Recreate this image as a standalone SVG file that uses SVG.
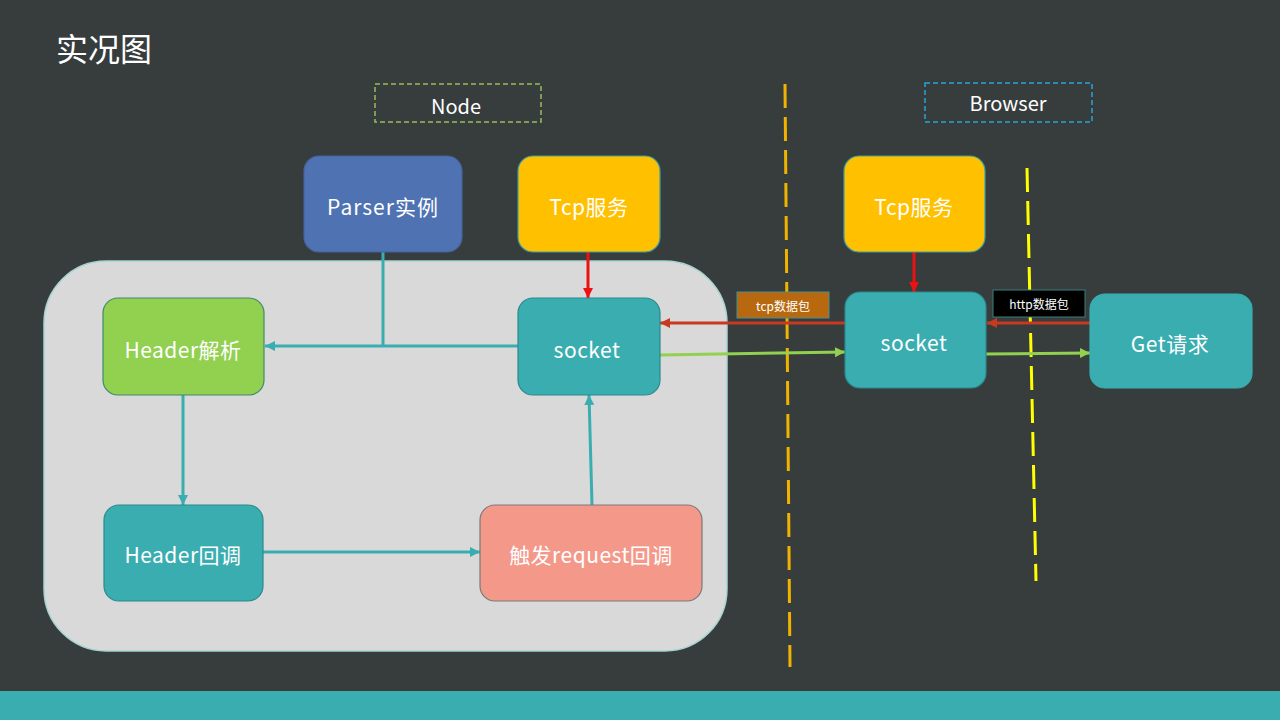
<svg xmlns="http://www.w3.org/2000/svg" width="1280" height="720" viewBox="0 0 1280 720">
<style>
.t{font-family:"Noto Sans CJK SC","Noto Sans",sans-serif;fill:#ffffff;text-anchor:middle;dominant-baseline:central;}
.n{font-size:21px;letter-spacing:0.5px;}
.s{font-size:12px;}
.box{stroke-width:1.2;}
.teal{fill:#3aadb1;stroke:#2b8a8c;}
.c{fill:none;stroke-width:3;}
</style>
<defs>
<marker id="aT" markerUnits="userSpaceOnUse" markerWidth="12" markerHeight="12" refX="10" refY="6" orient="auto"><path d="M0,1 L10,6 L0,11 z" fill="#3aadb1"/></marker>
<marker id="aR" markerUnits="userSpaceOnUse" markerWidth="12" markerHeight="12" refX="10" refY="6" orient="auto"><path d="M0,1 L10,6 L0,11 z" fill="#ee1111"/></marker>
<marker id="aD" markerUnits="userSpaceOnUse" markerWidth="12" markerHeight="12" refX="10" refY="6" orient="auto"><path d="M0,1 L10,6 L0,11 z" fill="#c9391f"/></marker>
<marker id="aG" markerUnits="userSpaceOnUse" markerWidth="12" markerHeight="12" refX="10" refY="6" orient="auto"><path d="M0,1 L10,6 L0,11 z" fill="#92d050"/></marker>
</defs>
<rect x="0" y="0" width="1280" height="720" fill="#373c3d"/>
<rect x="0" y="691" width="1280" height="29" fill="#3aadb1"/>
<text x="56" y="47" class="t" style="font-size:32px;text-anchor:start">实况图</text>

<g id="container"><rect x="44" y="261" width="683" height="390" rx="62" fill="#d9d9d9" stroke="#a6d4d2" stroke-width="1.5"/></g>

<g id="label-node"><rect x="375" y="84" width="166" height="38" fill="none" stroke="#9bbb59" stroke-width="1.5" stroke-dasharray="5,3"/><text x="456" y="105" class="t" style="font-size:20px">Node</text></g>
<g id="label-browser"><rect x="925" y="83" width="167" height="39" fill="none" stroke="#2aa3d6" stroke-width="1.5" stroke-dasharray="5,3"/><text x="1008" y="102" class="t" style="font-size:20px">Browser</text></g>

<g id="dividers">
<line x1="785" y1="84" x2="790" y2="667" stroke="#f0b400" stroke-width="3" stroke-dasharray="24,9"/>
<line x1="1027" y1="168" x2="1036" y2="581" stroke="#ffff00" stroke-width="3" stroke-dasharray="24,9"/>
</g>

<g id="connectors">
<polyline points="383,252 383,346" class="c" stroke="#3aadb1"/>
<line x1="518" y1="346" x2="265" y2="346" class="c" stroke="#3aadb1" marker-end="url(#aT)"/>
<line x1="588" y1="252" x2="588" y2="298" class="c" stroke="#ee1111" marker-end="url(#aR)"/>
<line x1="845" y1="323" x2="660" y2="323" class="c" stroke="#c9391f" marker-end="url(#aD)"/>
<line x1="660" y1="355" x2="845" y2="352" class="c" stroke="#92d050" marker-end="url(#aG)"/>
<line x1="183" y1="395" x2="183" y2="505" class="c" stroke="#3aadb1" marker-end="url(#aT)"/>
<line x1="263" y1="552" x2="480" y2="552" class="c" stroke="#3aadb1" marker-end="url(#aT)"/>
<line x1="592" y1="505" x2="589" y2="395" class="c" stroke="#3aadb1" marker-end="url(#aT)"/>
<line x1="914" y1="252" x2="914" y2="292" class="c" stroke="#ee1111" marker-end="url(#aR)"/>
<line x1="1090" y1="323" x2="987" y2="323" class="c" stroke="#c9391f" marker-end="url(#aD)"/>
<line x1="986" y1="354" x2="1090" y2="353" class="c" stroke="#92d050" marker-end="url(#aG)"/>
</g>

<g id="parser"><rect x="304" y="156" width="158" height="96" rx="15" fill="#4f72b3" stroke="#45639e" class="box"/><text x="383" y="206" class="t n" style="letter-spacing:1px">Parser实例</text></g>
<g id="tcp-left"><rect x="518" y="156" width="142" height="96" rx="15" fill="#ffc000" stroke="#3aa0a8" class="box"/><text x="589" y="206" class="t n">Tcp服务</text></g>
<g id="header-parse"><rect x="103" y="298" width="161" height="97" rx="15" fill="#92d050" stroke="#3f8a6e" class="box"/><text x="183" y="349" class="t n">Header解析</text></g>
<g id="socket-left"><rect x="518" y="298" width="142" height="97" rx="15" class="teal box"/><text x="587" y="349" class="t n">socket</text></g>
<g id="header-cb"><rect x="104" y="505" width="159" height="96" rx="15" class="teal box"/><text x="183" y="554" class="t n">Header回调</text></g>
<g id="request-cb"><rect x="480" y="505" width="222" height="96" rx="15" fill="#f4998a" stroke="#7a7a7a" class="box"/><text x="591" y="554" class="t n">触发request回调</text></g>
<g id="tcp-right"><rect x="844" y="156" width="141" height="96" rx="15" fill="#ffc000" stroke="#3aa0a8" class="box"/><text x="914" y="206" class="t n">Tcp服务</text></g>
<g id="socket-right"><rect x="845" y="292" width="141" height="96" rx="15" class="teal box"/><text x="914" y="342" class="t n">socket</text></g>
<g id="get-req"><rect x="1090" y="294" width="162" height="94" rx="15" fill="#3aadb1" stroke="#3aadb1" class="box"/><text x="1170" y="343" class="t n">Get请求</text></g>

<g id="tcp-packet"><rect x="737" y="292" width="92" height="26" fill="#b8690f" stroke="#4a8f8f" stroke-width="1"/><text x="783" y="305" class="t s">tcp数据包</text></g>
<g id="http-packet"><rect x="993" y="290" width="92" height="27" fill="#000000" stroke="#3a7f80" stroke-width="1"/><text x="1039" y="303" class="t s">http数据包</text></g>
</svg>
